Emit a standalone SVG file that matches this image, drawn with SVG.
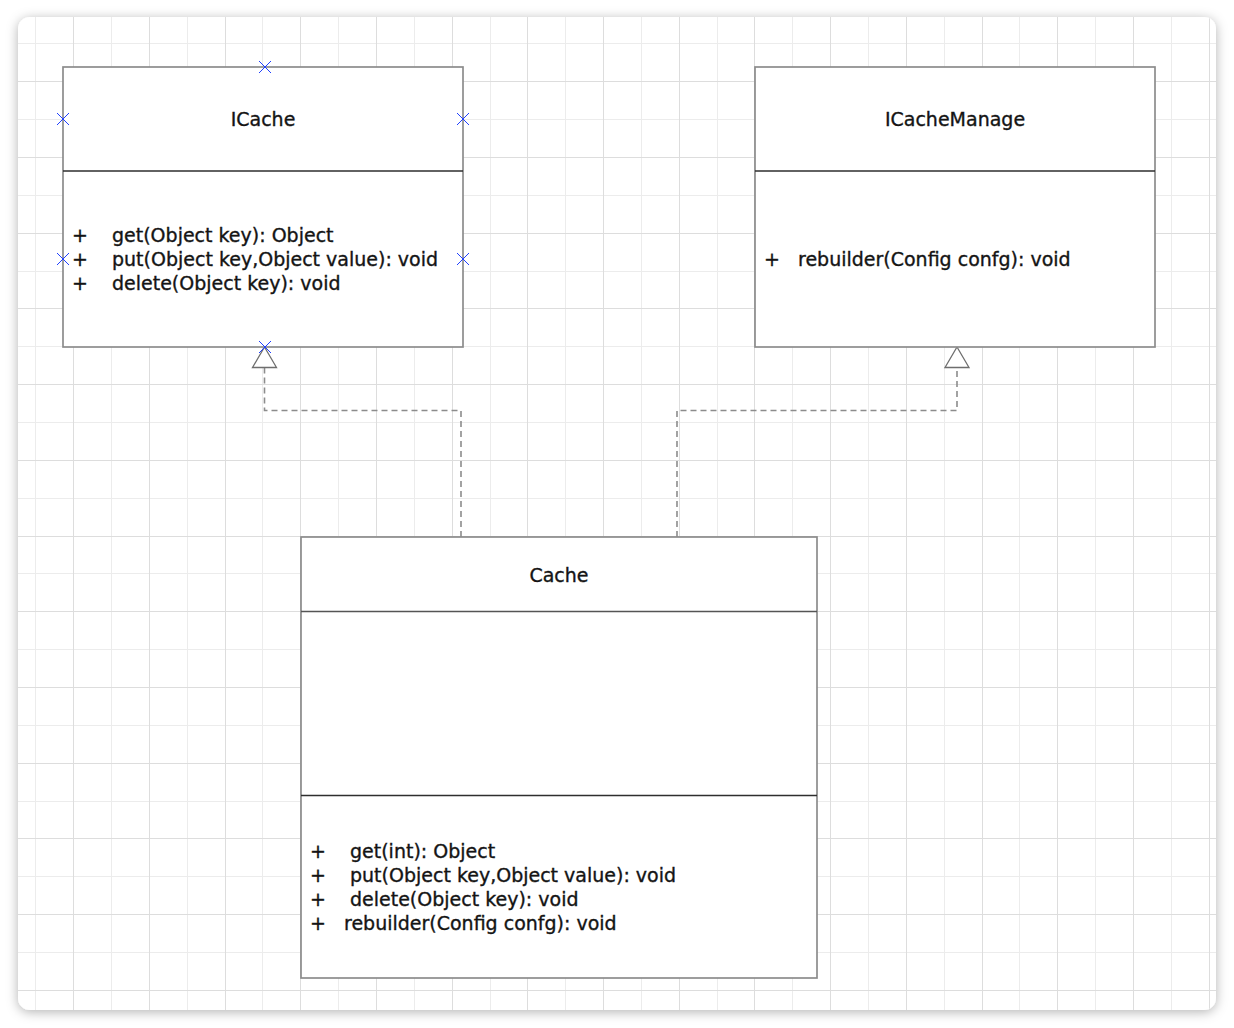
<svg xmlns="http://www.w3.org/2000/svg" width="1234" height="1028" viewBox="0 0 1234 1028">
  <style>
    .box{fill:#ffffff;stroke:#8c8c8c;stroke-width:1.7}
    .sep{stroke:#2e2e2e;stroke-width:1.3;fill:none}
    .t{font-family:"DejaVu Sans","Liberation Sans",sans-serif;font-size:19px;fill:#141414;stroke:#141414;stroke-width:0.35}
    .title{text-anchor:middle}
    .conn{fill:none;stroke:#8c8c8c;stroke-width:1.6;stroke-dasharray:6 4}
    .tri{fill:#ffffff;stroke:#6e6e6e;stroke-width:1.3}
    .hx{stroke:#1f3fff;stroke-width:1;fill:none}
    .gA{stroke:#ececec;stroke-width:1;fill:none}
    .gB{stroke:#dddddd;stroke-width:1;fill:none}
  </style>
  <defs>
    <filter id="shadow" x="-5%" y="-5%" width="110%" height="110%">
      <feDropShadow dx="0" dy="2" stdDeviation="6" flood-color="#000000" flood-opacity="0.3"/>
    </filter>
    <clipPath id="cardClip">
      <rect x="18" y="17" width="1198" height="993" rx="12" ry="12"/>
    </clipPath>
    <path id="hxMark" d="M-6,-6 L6,6 M-6,6 L6,-6"/>
  </defs>
  <rect width="1234" height="1028" fill="#ffffff"/>
  <rect x="18" y="17" width="1198" height="993" rx="12" ry="12" fill="#ffffff" filter="url(#shadow)"/>
  <g id="grid" clip-path="url(#cardClip)">
    <path class="gA" d="M35.5,17V1010 M111.5,17V1010 M187.5,17V1010 M262.5,17V1010 M338.5,17V1010 M414.5,17V1010 M490.5,17V1010 M565.5,17V1010 M641.5,17V1010 M717.5,17V1010 M792.5,17V1010 M868.5,17V1010 M944.5,17V1010 M1019.5,17V1010 M1095.5,17V1010 M1171.5,17V1010
      M18,43.5H1216 M18,119.5H1216 M18,195.5H1216 M18,271.5H1216 M18,346.5H1216 M18,422.5H1216 M18,498.5H1216 M18,573.5H1216 M18,649.5H1216 M18,725.5H1216 M18,801.5H1216 M18,876.5H1216 M18,952.5H1216"/>
    <path class="gB" d="M73.5,17V1010 M149.5,17V1010 M225.5,17V1010 M300.5,17V1010 M376.5,17V1010 M452.5,17V1010 M527.5,17V1010 M603.5,17V1010 M679.5,17V1010 M754.5,17V1010 M830.5,17V1010 M906.5,17V1010 M982.5,17V1010 M1057.5,17V1010 M1133.5,17V1010 M1209.5,17V1010
      M18,81.5H1216 M18,157.5H1216 M18,233.5H1216 M18,308.5H1216 M18,384.5H1216 M18,460.5H1216 M18,536.5H1216 M18,611.5H1216 M18,687.5H1216 M18,763.5H1216 M18,838.5H1216 M18,914.5H1216 M18,990.5H1216"/>
  </g>
  <g id="connectors">
    <path class="conn" d="M461,537 V410.5 H264.5 V367"/>
    <path class="tri" d="M264.5,347 L276.5,367.5 L252.5,367.5 Z"/>
    <path class="conn" d="M677,537 V410.5 H957 V367"/>
    <path class="tri" d="M957,347 L969,367.5 L945,367.5 Z"/>
  </g>
  <g id="ICache">
    <rect class="box" x="63" y="67" width="400" height="280"/>
    <line class="sep" x1="63" y1="171" x2="463" y2="171"/>
    <text class="t title" x="263" y="126">ICache</text>
    <text class="t" x="72" y="242">+</text>
    <text class="t" x="112" y="242">get(Object key): Object</text>
    <text class="t" x="72" y="266">+</text>
    <text class="t" x="112" y="266">put(Object key,Object value): void</text>
    <text class="t" x="72" y="290">+</text>
    <text class="t" x="112" y="290">delete(Object key): void</text>
  </g>
  <g id="ICacheManage">
    <rect class="box" x="755" y="67" width="400" height="280"/>
    <line class="sep" x1="755" y1="171" x2="1155" y2="171"/>
    <text class="t title" x="955" y="126">ICacheManage</text>
    <text class="t" x="764" y="266">+</text>
    <text class="t" x="798" y="266">rebuilder(Config confg): void</text>
  </g>
  <g id="Cache">
    <rect class="box" x="301" y="537" width="516" height="441"/>
    <line class="sep" x1="301" y1="611.5" x2="817" y2="611.5" style="stroke:#555555"/>
    <line class="sep" x1="301" y1="795.5" x2="817" y2="795.5"/>
    <text class="t title" x="559" y="582">Cache</text>
    <text class="t" x="310" y="858">+</text>
    <text class="t" x="350" y="858">get(int): Object</text>
    <text class="t" x="310" y="882">+</text>
    <text class="t" x="350" y="882">put(Object key,Object value): void</text>
    <text class="t" x="310" y="906">+</text>
    <text class="t" x="350" y="906">delete(Object key): void</text>
    <text class="t" x="310" y="930">+</text>
    <text class="t" x="344" y="930">rebuilder(Config confg): void</text>
  </g>
  <g id="handles">
    <use href="#hxMark" class="hx" x="265" y="67"/>
    <use href="#hxMark" class="hx" x="63" y="119"/>
    <use href="#hxMark" class="hx" x="463" y="119"/>
    <use href="#hxMark" class="hx" x="63" y="259"/>
    <use href="#hxMark" class="hx" x="463" y="259"/>
    <use href="#hxMark" class="hx" x="265" y="347"/>
  </g>
</svg>
